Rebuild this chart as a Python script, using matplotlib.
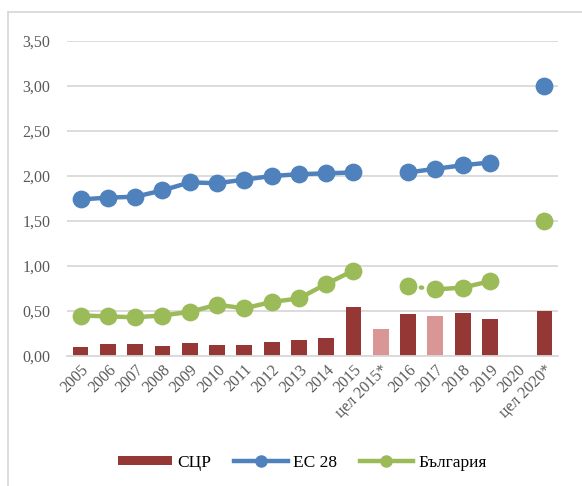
import numpy as np
import matplotlib
matplotlib.use("Agg")
import matplotlib.pyplot as plt
from matplotlib.lines import Line2D
from matplotlib.patches import Patch

categories = ["2005", "2006", "2007", "2008", "2009", "2010", "2011", "2012", "2013",
              "2014", "2015", "цел 2015*", "2016", "2017", "2018", "2019", "2020", "цел 2020*"]
scr = [0.10, 0.13, 0.13, 0.11, 0.14, 0.12, 0.12, 0.15, 0.18, 0.20, 0.55, 0.30,
       0.47, 0.45, 0.48, 0.41, np.nan, 0.50]
scr_light = [False]*11 + [True, False, True, False, False, False, False]
eu28 = [1.74, 1.76, 1.77, 1.84, 1.93, 1.92, 1.96, 2.00, 2.02, 2.03, 2.04, np.nan,
        2.04, 2.08, 2.12, 2.15, np.nan, 3.00]
bg = [0.45, 0.44, 0.43, 0.45, 0.49, 0.57, 0.53, 0.60, 0.64, 0.80, 0.95, np.nan,
      0.78, 0.74, 0.76, 0.83, np.nan, 1.50]
bg_dotted_segments = [(12, 13)]
yticks = [0, 0.5, 1.0, 1.5, 2.0, 2.5, 3.0, 3.5]

dark_red = "#953735"
light_red = "#D99694"
blue = "#4F81BD"
green = "#9BBB59"

plt.rcParams['font.family'] = ['Liberation Serif', 'DejaVu Serif']

fig = plt.figure(figsize=(5.82, 4.86), dpi=100)
ax = fig.add_axes([0.115, 0.2675, 0.844, 0.648])

x = np.arange(len(categories))
colors = [light_red if l else dark_red for l in scr_light]
ax.bar(x, np.nan_to_num(scr), width=0.58, color=colors, zorder=2)

ms = 11.8
lw = 3.2
ax.plot(x, eu28, color=blue, lw=lw, marker='o', ms=ms, zorder=3)

bg_arr = np.array(bg, dtype=float)
breaks = [a for a, b in bg_dotted_segments]
pieces = []
cur = []
for i in range(len(bg_arr)):
    cur.append(i)
    if i in breaks:
        pieces.append(cur)
        cur = []
pieces.append(cur)
for p in pieces:
    ax.plot(x[p], bg_arr[p], color=green, lw=lw, zorder=3, solid_capstyle='round')
for a, b in bg_dotted_segments:
    ax.plot(x[[a, b]], bg_arr[[a, b]], color=green, lw=lw, ls=(0, (0.3, 2.6)),
            dash_capstyle='round', zorder=3)
ax.plot(x, bg_arr, color=green, lw=0, marker='o', ms=ms, zorder=4)

ax.set_xlim(-0.5, len(categories) - 0.5)
ax.set_ylim(0, 3.5)
ax.set_yticks(yticks)
ax.set_yticklabels([f"{v:.2f}".replace('.', ',') for v in yticks], fontsize=11.5, color='#595959')
ax.set_xticks(x)
ax.set_xticklabels(categories, rotation=45, ha='right', rotation_mode='anchor',
                   fontsize=11.5, color='#595959')
ax.tick_params(axis='both', length=0)
ax.tick_params(axis='y', pad=12)
ax.tick_params(axis='x', pad=4)
ax.grid(axis='y', color='#D9D9D9', lw=1.3, zorder=0)
ax.set_axisbelow(True)
for s in ['top', 'right', 'left']:
    ax.spines[s].set_visible(False)
ax.spines['bottom'].set_color('#D9D9D9')
ax.spines['bottom'].set_linewidth(1.3)

handles = [Patch(facecolor=dark_red, edgecolor='none'),
           Line2D([], [], color=blue, lw=lw, marker='o', ms=8),
           Line2D([], [], color=green, lw=lw, marker='o', ms=8)]
fig.legend(handles, ["СЦР", "ЕС 28", "България"], loc='center',
           bbox_to_anchor=(0.52, 0.048), ncol=3, frameon=False, fontsize=12.5,
           handlelength=3.1, handleheight=0.5, columnspacing=1.3, handletextpad=0.3)

# outer border (left and top)
fig.add_artist(Line2D([8/582, 8/582], [0, 1 - 12/486], color='#D9D9D9', lw=1.3,
                      transform=fig.transFigure))
fig.add_artist(Line2D([8/582, 1], [1 - 12/486, 1 - 12/486], color='#D9D9D9', lw=1.3,
                      transform=fig.transFigure))

fig.savefig("out.png", dpi=100)
